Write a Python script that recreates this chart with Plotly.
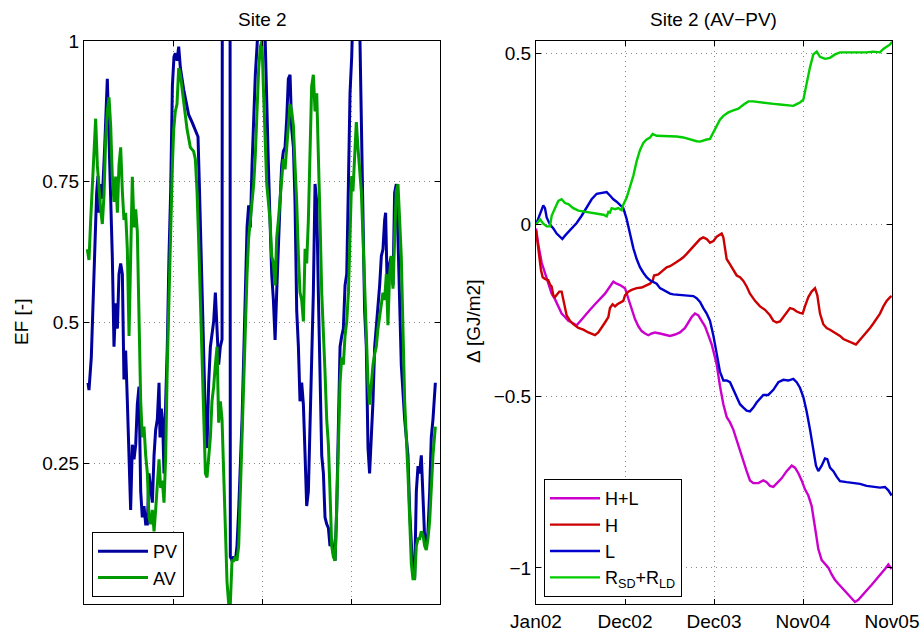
import plotly.graph_objects as go

# ---------------- data (time axis in tick units: 0=Jan02 ... 4=Nov05) -------------
tick_labels = ["Jan02", "Dec02", "Dec03", "Nov04", "Nov05"]
tick_pos = [0, 1, 2, 3, 4]

pv_t = [0.045, 0.056, 0.082, 0.112, 0.142, 0.157, 0.169, 0.187, 0.206, 0.232, 0.255, 0.262, 0.277, 0.300, 0.318,
        0.337, 0.356, 0.375, 0.393, 0.412, 0.431, 0.449, 0.468, 0.487, 0.506, 0.524, 0.543, 0.562, 0.581, 0.599,
        0.618, 0.637, 0.655, 0.674, 0.693, 0.712, 0.730, 0.749, 0.768, 0.787, 0.805, 0.824, 0.843, 0.854, 0.869,
        0.884, 0.899, 0.918, 0.936, 0.955, 0.974, 0.993, 1.011, 1.026, 1.045, 1.064, 1.083, 1.120, 1.176, 1.214,
        1.251, 1.281, 1.296, 1.319, 1.345, 1.364, 1.382, 1.401, 1.420, 1.438, 1.457, 1.476, 1.495, 1.513, 1.532,
        1.551, 1.556, 1.640, 1.644, 1.663, 1.682, 1.701, 1.719, 1.738, 1.776, 1.813, 1.832, 1.850, 1.869, 1.888,
        1.907, 1.925, 1.944, 1.963, 1.980, 2.020, 2.034, 2.053, 2.072, 2.090, 2.109, 2.128, 2.147, 2.165, 2.184,
        2.203, 2.221, 2.240, 2.259, 2.278, 2.296, 2.315, 2.334, 2.353, 2.371, 2.390, 2.409, 2.427, 2.446, 2.465,
        2.484, 2.502, 2.521, 2.540, 2.558, 2.577, 2.596, 2.615, 2.633, 2.652, 2.671, 2.690, 2.708, 2.727, 2.746,
        2.764, 2.783, 2.802, 2.821, 2.839, 2.858, 2.877, 2.896, 2.914, 2.933, 2.952, 2.971, 2.989, 3.008, 3.030,
        3.090, 3.116, 3.135, 3.153, 3.172, 3.191, 3.209, 3.228, 3.247, 3.266, 3.284, 3.303, 3.322, 3.341, 3.359,
        3.378, 3.389, 3.408, 3.434, 3.453, 3.472, 3.490, 3.509, 3.528, 3.546, 3.565, 3.603, 3.640, 3.659, 3.678,
        3.696, 3.715, 3.734, 3.753, 3.771, 3.790, 3.809, 3.828, 3.846, 3.865, 3.884, 3.902, 3.921, 3.948]
pv_ef = [0.393, 0.38, 0.438, 0.59, 0.73, 0.76, 0.695, 0.746, 0.72, 0.81, 0.907, 0.933, 0.85, 0.734, 0.618,
         0.457, 0.534, 0.489, 0.586, 0.605, 0.586, 0.399, 0.45, 0.36, 0.264, 0.167, 0.283, 0.257, 0.283, 0.354,
         0.386, 0.2, 0.154, 0.174, 0.142, 0.142, 0.232, 0.2, 0.18, 0.264, 0.309, 0.328, 0.393, 0.296, 0.347,
         0.322, 0.232, 0.36, 0.457, 0.618, 0.734, 0.92, 0.972, 0.978, 0.965, 0.99, 0.952, 0.914, 0.869, 0.856,
         0.843, 0.83, 0.746, 0.618, 0.457, 0.328, 0.277, 0.393, 0.457, 0.476, 0.502, 0.553, 0.476, 0.425, 0.457,
         0.47, 1.5, 1.5, 0.084, 0.077, 0.084, 0.077, 0.103, 0.167, 0.328, 0.553, 0.669, 0.708, 0.669, 0.779,
         0.875, 0.94, 0.99, 1.05, 1.1, 1.1, 1.0, 0.875, 0.779, 0.682, 0.586, 0.54, 0.469, 0.553, 0.65,
         0.714, 0.779, 0.804, 0.811, 0.862, 0.933, 0.94, 0.843, 0.811, 0.714, 0.521, 0.457, 0.36, 0.393, 0.354,
         0.264, 0.174, 0.2, 0.328, 0.476, 0.553, 0.746, 0.714, 0.553, 0.393, 0.264, 0.232, 0.154, 0.142, 0.135,
         0.103, 0.116, 0.09, 0.077, 0.167, 0.328, 0.457, 0.476, 0.489, 0.566, 0.586, 0.746, 0.907, 0.972, 1.1,
         1.1, 0.875, 0.682, 0.521, 0.457, 0.277, 0.232, 0.296, 0.36, 0.457, 0.489, 0.521, 0.566, 0.618, 0.63,
         0.682, 0.695, 0.553, 0.605, 0.618, 0.566, 0.73, 0.746, 0.65, 0.553, 0.425, 0.328, 0.264, 0.167, 0.103,
         0.051, 0.045, 0.2, 0.245, 0.232, 0.264, 0.2, 0.116, 0.103, 0.129, 0.2, 0.296, 0.328, 0.393]

av_t = [0.037, 0.056, 0.075, 0.094, 0.112, 0.131, 0.150, 0.169, 0.187, 0.206, 0.225, 0.243, 0.262, 0.281, 0.300,
        0.318, 0.337, 0.356, 0.375, 0.393, 0.412, 0.431, 0.449, 0.468, 0.487, 0.506, 0.524, 0.543, 0.562, 0.581,
        0.599, 0.618, 0.637, 0.655, 0.674, 0.693, 0.712, 0.730, 0.749, 0.768, 0.787, 0.805, 0.824, 0.843, 0.861,
        0.880, 0.899, 0.918, 0.936, 0.955, 0.974, 0.993, 1.008, 1.026, 1.045, 1.064, 1.083, 1.120, 1.158, 1.195,
        1.232, 1.251, 1.270, 1.289, 1.307, 1.326, 1.345, 1.364, 1.382, 1.401, 1.420, 1.438, 1.457, 1.476, 1.495,
        1.513, 1.532, 1.551, 1.570, 1.588, 1.607, 1.626, 1.644, 1.663, 1.682, 1.701, 1.719, 1.738, 1.757, 1.776,
        1.794, 1.813, 1.832, 1.850, 1.869, 1.888, 1.907, 1.925, 1.944, 1.963, 1.982, 2.000, 2.015, 2.034, 2.053,
        2.072, 2.090, 2.109, 2.128, 2.147, 2.165, 2.184, 2.203, 2.221, 2.240, 2.259, 2.278, 2.296, 2.315, 2.334,
        2.353, 2.371, 2.390, 2.409, 2.427, 2.446, 2.465, 2.484, 2.502, 2.521, 2.540, 2.558, 2.577, 2.596, 2.615,
        2.633, 2.652, 2.671, 2.690, 2.708, 2.727, 2.746, 2.764, 2.783, 2.802, 2.821, 2.839, 2.858, 2.877, 2.896,
        2.914, 2.933, 2.952, 2.971, 2.989, 3.008, 3.022, 3.041, 3.060, 3.078, 3.097, 3.116, 3.135, 3.153, 3.172,
        3.191, 3.209, 3.228, 3.247, 3.266, 3.284, 3.303, 3.322, 3.341, 3.359, 3.378, 3.397, 3.415, 3.434, 3.453,
        3.472, 3.490, 3.509, 3.528, 3.546, 3.565, 3.584, 3.603, 3.640, 3.659, 3.678, 3.696, 3.715, 3.734, 3.753,
        3.771, 3.790, 3.809, 3.828, 3.846, 3.865, 3.884, 3.902, 3.921, 3.948]
av_ef = [0.63, 0.611, 0.682, 0.746, 0.811, 0.862, 0.779, 0.733, 0.701, 0.675, 0.727, 0.824, 0.875, 0.9, 0.849,
         0.759, 0.714, 0.759, 0.695, 0.779, 0.811, 0.733, 0.682, 0.695, 0.63, 0.476, 0.618, 0.759, 0.669, 0.701,
         0.662, 0.489, 0.36, 0.296, 0.315, 0.264, 0.232, 0.154, 0.142, 0.167, 0.129, 0.167, 0.219, 0.257, 0.206,
         0.219, 0.18, 0.264, 0.425, 0.553, 0.682, 0.779, 0.843, 0.875, 0.888, 0.952, 0.94, 0.888, 0.843, 0.811,
         0.804, 0.79, 0.733, 0.643, 0.553, 0.457, 0.36, 0.232, 0.225, 0.264, 0.296, 0.36, 0.386, 0.425, 0.457,
         0.322, 0.36, 0.328, 0.232, 0.103, 0.039, 0.0, 0.0, 0.077, 0.077, 0.084, 0.077, 0.103, 0.2, 0.328,
         0.425, 0.521, 0.586, 0.65, 0.682, 0.714, 0.746, 0.798, 0.875, 0.952, 0.99, 1.0, 0.92, 0.843, 0.746,
         0.714, 0.682, 0.618, 0.605, 0.566, 0.65, 0.682, 0.72, 0.759, 0.79, 0.772, 0.811, 0.843, 0.888, 0.875,
         0.849, 0.779, 0.714, 0.618, 0.553, 0.54, 0.502, 0.631, 0.605, 0.682, 0.811, 0.92, 0.94, 0.875, 0.907,
         0.811, 0.682, 0.553, 0.489, 0.412, 0.328, 0.283, 0.2, 0.103, 0.084, 0.077, 0.167, 0.296, 0.393, 0.438,
         0.425, 0.476, 0.502, 0.553, 0.68, 0.76, 0.733, 0.811, 0.856, 0.811, 0.779, 0.733, 0.65, 0.553, 0.457,
         0.393, 0.354, 0.393, 0.425, 0.444, 0.457, 0.489, 0.508, 0.534, 0.553, 0.54, 0.586, 0.495, 0.586, 0.618,
         0.56, 0.65, 0.733, 0.746, 0.682, 0.618, 0.489, 0.36, 0.232, 0.135, 0.071, 0.045, 0.045, 0.103, 0.116,
         0.116, 0.129, 0.122, 0.103, 0.096, 0.116, 0.148, 0.2, 0.264, 0.315]

hl_t = [0.000, 0.026, 0.064, 0.101, 0.138, 0.176, 0.213, 0.251, 0.288, 0.326, 0.363, 0.401, 0.438, 0.457, 0.494,
        0.550, 0.607, 0.663, 0.719, 0.775, 0.831, 0.869, 0.906, 0.944, 1.000, 1.037, 1.075, 1.112, 1.150, 1.187,
        1.225, 1.262, 1.300, 1.337, 1.393, 1.449, 1.506, 1.562, 1.618, 1.674, 1.712, 1.749, 1.786, 1.824, 1.861,
        1.899, 1.936, 1.974, 2.000, 2.030, 2.067, 2.105, 2.142, 2.180, 2.217, 2.255, 2.292, 2.330, 2.367, 2.404,
        2.442, 2.498, 2.554, 2.592, 2.629, 2.667, 2.704, 2.760, 2.816, 2.873, 2.910, 2.948, 2.985, 3.022, 3.060,
        3.097, 3.135, 3.172, 3.210, 3.247, 3.285, 3.322, 3.360, 3.397, 3.434, 3.472, 3.509, 3.547, 3.584, 3.622,
        3.659, 3.697, 3.734, 3.772, 3.809, 3.846, 3.884, 3.921, 3.959, 3.996]
hl_d = [-0.011, -0.058, -0.111, -0.143, -0.174, -0.201, -0.217, -0.238, -0.259, -0.269, -0.28, -0.285, -0.29, -0.293, -0.282,
        -0.264, -0.248, -0.232, -0.217, -0.201, -0.18, -0.166, -0.172, -0.176, -0.185, -0.217, -0.248, -0.275, -0.296, -0.31,
        -0.317, -0.322, -0.317, -0.314, -0.317, -0.32, -0.324, -0.32, -0.314, -0.301, -0.285, -0.269, -0.259, -0.264, -0.28,
        -0.296, -0.322, -0.349, -0.375, -0.407, -0.47, -0.523, -0.56, -0.576, -0.597, -0.629, -0.655, -0.687, -0.718, -0.745,
        -0.753, -0.753, -0.745, -0.75, -0.761, -0.764, -0.755, -0.739, -0.718, -0.702, -0.708, -0.724, -0.745, -0.771, -0.789,
        -0.819, -0.882, -0.945, -0.977, -0.988, -0.999, -1.019, -1.035, -1.046, -1.056, -1.067, -1.077, -1.088, -1.099, -1.093,
        -1.083, -1.072, -1.06, -1.049, -1.038, -1.028, -1.017, -1.003, -0.99, -1.003]

h_t = [0.000, 0.015, 0.038, 0.056, 0.075, 0.101, 0.138, 0.157, 0.176, 0.195, 0.213, 0.232, 0.262, 0.288, 0.307,
       0.326, 0.344, 0.382, 0.419, 0.476, 0.532, 0.588, 0.625, 0.663, 0.700, 0.738, 0.775, 0.813, 0.831, 0.861,
       0.888, 0.914, 0.944, 0.981, 1.000, 1.037, 1.075, 1.131, 1.187, 1.243, 1.281, 1.311, 1.326, 1.374, 1.431,
       1.468, 1.506, 1.543, 1.580, 1.618, 1.655, 1.693, 1.730, 1.768, 1.805, 1.843, 1.880, 1.918, 1.955, 1.992,
       2.030, 2.086, 2.105, 2.124, 2.142, 2.180, 2.217, 2.255, 2.292, 2.330, 2.367, 2.404, 2.461, 2.517, 2.573,
       2.629, 2.667, 2.704, 2.742, 2.779, 2.816, 2.854, 2.891, 2.929, 2.966, 2.996, 3.022, 3.060, 3.097, 3.135,
       3.161, 3.191, 3.228, 3.266, 3.303, 3.341, 3.378, 3.416, 3.453, 3.491, 3.528, 3.566, 3.595, 3.633, 3.678,
       3.715, 3.753, 3.790, 3.828, 3.865, 3.903, 3.940, 3.978, 3.996]
h_d = [-0.016, -0.048, -0.09, -0.132, -0.153, -0.158, -0.162, -0.174, -0.18, -0.206, -0.211, -0.206, -0.195, -0.195, -0.217,
       -0.243, -0.264, -0.28, -0.29, -0.301, -0.306, -0.314, -0.319, -0.322, -0.314, -0.301, -0.285, -0.269, -0.243, -0.232,
       -0.238, -0.232, -0.227, -0.222, -0.206, -0.195, -0.19, -0.185, -0.183, -0.176, -0.172, -0.164, -0.148, -0.145, -0.132,
       -0.124, -0.121, -0.116, -0.109, -0.102, -0.095, -0.085, -0.074, -0.063, -0.053, -0.042, -0.037, -0.042, -0.053, -0.048,
       -0.035, -0.026, -0.037, -0.079, -0.1, -0.116, -0.132, -0.148, -0.153, -0.164, -0.18, -0.201, -0.222, -0.238, -0.248,
       -0.264, -0.28, -0.285, -0.282, -0.269, -0.253, -0.243, -0.246, -0.253, -0.257, -0.259, -0.238, -0.211, -0.195, -0.185,
       -0.206, -0.259, -0.29, -0.301, -0.306, -0.312, -0.317, -0.324, -0.333, -0.338, -0.342, -0.346, -0.349, -0.338, -0.322,
       -0.312, -0.301, -0.288, -0.275, -0.259, -0.238, -0.222, -0.211, -0.208]

l_t = [0.000, 0.026, 0.052, 0.082, 0.101, 0.120, 0.157, 0.195, 0.232, 0.270, 0.296, 0.326, 0.363, 0.401, 0.457,
       0.513, 0.569, 0.625, 0.682, 0.738, 0.794, 0.831, 0.869, 0.906, 0.944, 0.981, 1.019, 1.056, 1.094, 1.131,
       1.168, 1.206, 1.243, 1.281, 1.318, 1.356, 1.393, 1.431, 1.468, 1.506, 1.543, 1.580, 1.655, 1.730, 1.768,
       1.805, 1.843, 1.880, 1.918, 1.955, 1.992, 2.030, 2.067, 2.105, 2.142, 2.180, 2.217, 2.255, 2.292, 2.330,
       2.367, 2.404, 2.442, 2.479, 2.517, 2.554, 2.610, 2.667, 2.723, 2.779, 2.835, 2.891, 2.929, 2.966, 3.004,
       3.041, 3.079, 3.116, 3.146, 3.172, 3.210, 3.247, 3.273, 3.303, 3.341, 3.378, 3.416, 3.491, 3.566, 3.640,
       3.715, 3.790, 3.865, 3.921, 3.959, 3.996]
l_d = [0.0, 0.016, 0.037, 0.056, 0.048, 0.021, 0.0, -0.011, -0.026, -0.037, -0.042, -0.032, -0.021, -0.011, 0.005,
       0.026, 0.048, 0.074, 0.09, 0.092, 0.095, 0.085, 0.074, 0.067, 0.058, 0.048, 0.016, -0.026, -0.069, -0.1,
       -0.124, -0.14, -0.153, -0.162, -0.166, -0.172, -0.185, -0.19, -0.195, -0.201, -0.203, -0.204, -0.206, -0.206, -0.208,
       -0.214, -0.225, -0.243, -0.259, -0.28, -0.322, -0.375, -0.428, -0.454, -0.454, -0.459, -0.481, -0.502, -0.523, -0.533,
       -0.542, -0.544, -0.533, -0.518, -0.507, -0.496, -0.496, -0.481, -0.459, -0.452, -0.454, -0.449, -0.459, -0.475, -0.502,
       -0.544, -0.597, -0.65, -0.702, -0.718, -0.702, -0.681, -0.683, -0.708, -0.718, -0.734, -0.747, -0.75, -0.753, -0.755,
       -0.761, -0.763, -0.766, -0.764, -0.774, -0.789]

r_t = [0.000, 0.026, 0.045, 0.082, 0.120, 0.157, 0.176, 0.213, 0.251, 0.288, 0.326, 0.363, 0.419, 0.476, 0.532,
       0.588, 0.644, 0.700, 0.757, 0.794, 0.813, 0.831, 0.850, 0.888, 0.925, 0.962, 0.981, 1.019, 1.056, 1.094,
       1.131, 1.168, 1.206, 1.243, 1.281, 1.311, 1.356, 1.431, 1.506, 1.580, 1.655, 1.730, 1.805, 1.843, 1.880,
       1.918, 1.955, 1.992, 2.030, 2.067, 2.105, 2.161, 2.217, 2.273, 2.330, 2.386, 2.442, 2.517, 2.592, 2.667,
       2.742, 2.816, 2.891, 2.929, 2.966, 3.004, 3.022, 3.041, 3.079, 3.116, 3.154, 3.191, 3.247, 3.303, 3.360,
       3.416, 3.491, 3.566, 3.640, 3.715, 3.790, 3.865, 3.903, 3.940, 3.978, 4.000]
r_d = [0.0, 0.011, 0.016, 0.003, -0.005, -0.005, 0.026, 0.048, 0.069, 0.074, 0.063, 0.06, 0.048, 0.041, 0.039,
       0.035, 0.033, 0.031, 0.029, 0.024, 0.037, 0.035, 0.048, 0.045, 0.048, 0.042, 0.058, 0.079, 0.111, 0.143,
       0.185, 0.217, 0.238, 0.248, 0.254, 0.264, 0.259, 0.259, 0.259, 0.257, 0.254, 0.248, 0.243, 0.242, 0.246,
       0.248, 0.25, 0.269, 0.29, 0.306, 0.317, 0.327, 0.333, 0.338, 0.349, 0.359, 0.359, 0.356, 0.354, 0.352,
       0.35, 0.348, 0.346, 0.351, 0.356, 0.364, 0.386, 0.417, 0.459, 0.496, 0.504, 0.489, 0.483, 0.486, 0.496,
       0.502, 0.502, 0.5, 0.5, 0.502, 0.504, 0.502, 0.512, 0.518, 0.525, 0.533]

# ---------------- figure ----------------
W, H = 922, 631
FONT = "Liberation Sans, Arial, Helvetica, sans-serif"
fs = 19

def px_x(p):
    return p / W

def px_y(p):
    return 1 - p / H

fig = go.Figure()
fig.add_trace(go.Scatter(x=pv_t, y=pv_ef, mode="lines", name="PV",
                         line=dict(color="#00009C", width=3), xaxis="x", yaxis="y", legend="legend"))
fig.add_trace(go.Scatter(x=av_t, y=av_ef, mode="lines", name="AV",
                         line=dict(color="#009A00", width=3), xaxis="x", yaxis="y", legend="legend"))

fig.add_trace(go.Scatter(x=hl_t, y=hl_d, mode="lines", name="H+L",
                         line=dict(color="#CC00CC", width=2.4), xaxis="x2", yaxis="y2", legend="legend2"))
fig.add_trace(go.Scatter(x=h_t, y=h_d, mode="lines", name="H",
                         line=dict(color="#CC0000", width=2.4), xaxis="x2", yaxis="y2", legend="legend2"))
fig.add_trace(go.Scatter(x=l_t, y=l_d, mode="lines", name="L",
                         line=dict(color="#0000CC", width=2.4), xaxis="x2", yaxis="y2", legend="legend2"))
fig.add_trace(go.Scatter(x=r_t, y=r_d, mode="lines", name="R<sub>SD</sub>+R<sub>LD</sub>",
                         line=dict(color="#00CC00", width=2.4), xaxis="x2", yaxis="y2", legend="legend2"))

ydom = [px_y(604), px_y(41)]
common_axis = dict(showline=True, linecolor="black", linewidth=1, mirror="ticks",
                   ticks="inside", ticklen=5, tickcolor="black", tickwidth=1,
                   showgrid=True, gridcolor="#8a8a8a", gridwidth=1, griddash="1px,4px",
                   zeroline=False, automargin=False,
                   tickfont=dict(family=FONT, size=fs, color="black"))

legend_common = dict(xanchor="left", yanchor="bottom", bgcolor="white",
                     bordercolor="black", borderwidth=1, itemwidth=50,
                     font=dict(family=FONT, size=18, color="black"), tracegroupgap=0)

fig.update_layout(
    template="none",
    width=W, height=H, margin=dict(l=0, r=0, t=0, b=0, autoexpand=False),
    paper_bgcolor="white", plot_bgcolor="white",
    font=dict(family=FONT, size=fs, color="black"),
    xaxis=dict(domain=[px_x(84), px_x(440)], range=[0, 4], tickvals=tick_pos,
               showticklabels=False, anchor="y", **common_axis),
    yaxis=dict(domain=ydom, range=[0, 1], tickvals=[0.25, 0.5, 0.75, 1],
               ticktext=["0.25", "0.5", "0.75", "1"], anchor="x", **common_axis),
    xaxis2=dict(domain=[px_x(536), px_x(892)], range=[0, 4], tickvals=tick_pos,
                ticktext=tick_labels, anchor="y2", **common_axis),
    yaxis2=dict(domain=ydom, range=[-1.105, 0.535], tickvals=[-1, -0.5, 0, 0.5],
                ticktext=["\u22121", "\u22120.5", "0", "0.5"], anchor="x2", **common_axis),
    legend=dict(x=px_x(92), y=px_y(597), **legend_common),
    legend2=dict(x=px_x(544), y=px_y(597), **legend_common),
    showlegend=True,
)

annos = [
    dict(text="Site 2", x=px_x(262), y=px_y(20)),
    dict(text="Site 2 (AV\u2212PV)", x=px_x(713), y=px_y(20)),
    dict(text="EF [-]", x=px_x(21), y=px_y(322), textangle=-90),
    dict(text="\u0394 [GJ/m2]", x=px_x(473), y=px_y(322), textangle=-90),
]
for a in annos:
    fig.add_annotation(xref="paper", yref="paper", showarrow=False,
                       xanchor="center", yanchor="middle",
                       font=dict(family=FONT, size=fs, color="black"), **a)

fig.write_html("out.html")
